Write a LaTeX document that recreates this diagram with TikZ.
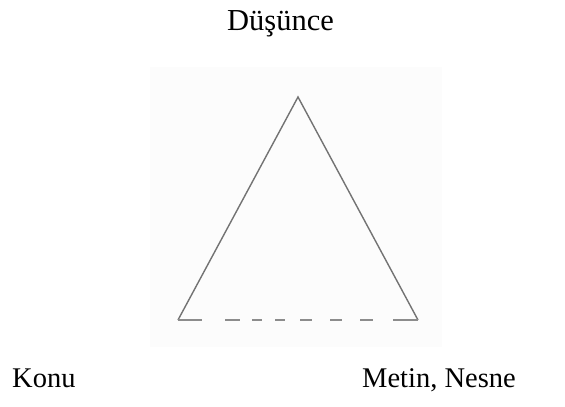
\documentclass[tikz,border=0pt]{standalone}
\usepackage{fontspec}
\setmainfont{Liberation Serif}
\begin{document}
\begin{tikzpicture}[x=1pt,y=-1pt,
  lbl/.style={anchor=base west,inner sep=0pt,font=\fontsize{28.5}{30}\selectfont},
  edge/.style={draw=black!55,line width=1.4pt,line join=miter},
  dashseg/.style={draw=black!45,line width=2pt}]
\useasboundingbox (0,0) rectangle (565,407);
\fill[black!1] (150,67) rectangle (442,347);
\node[lbl,font=\fontsize{30.5}{32}\selectfont] (top) at (227,30) {Düşünce};
\node[lbl] (left) at (12,387) {Konu};
\node[lbl] (right) at (362,387) {Metin, Nesne};
\coordinate (apex) at (298,97);
\coordinate (bl) at (178,320);
\coordinate (br) at (418,320);
\draw[edge] (bl) -- (apex) -- (br);
\foreach \a/\b in {178/202,225/240,252/262,275/285,300/312,330/342,360/373,393/418}
  \draw[dashseg] (\a,320) -- (\b,320);
\end{tikzpicture}
\end{document}
